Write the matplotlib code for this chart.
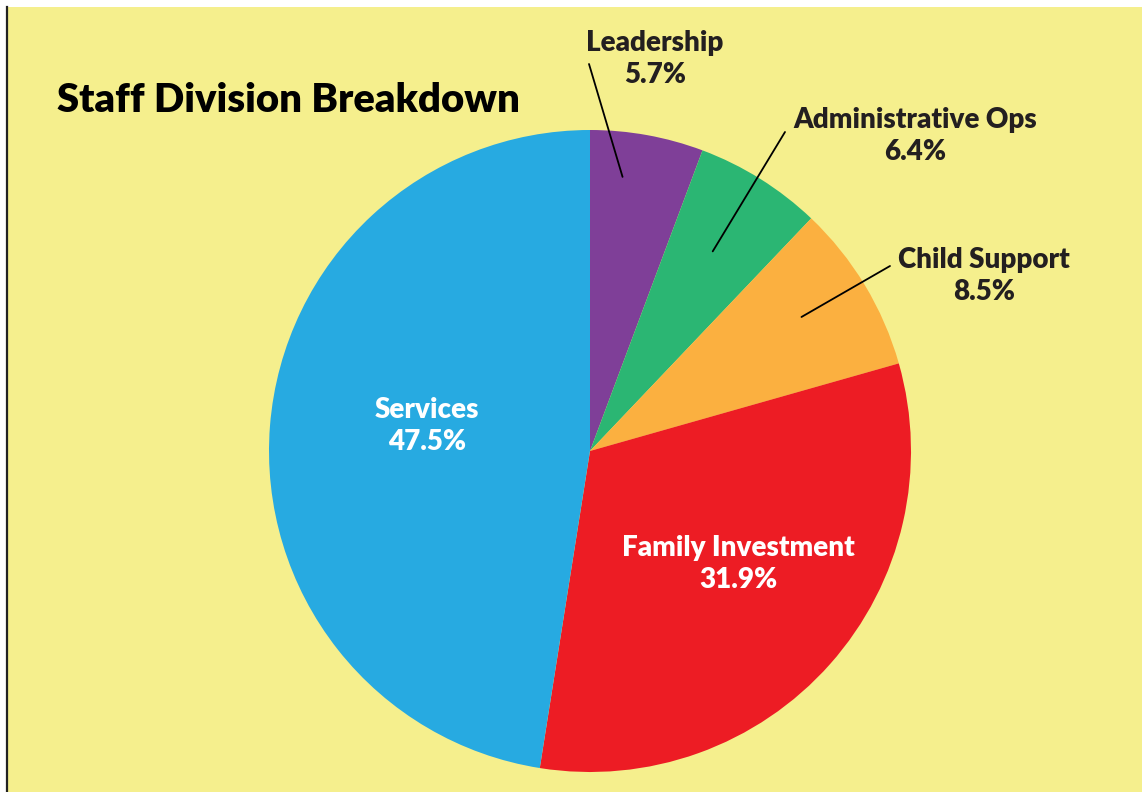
import numpy as np
import matplotlib
matplotlib.use("Agg")
from matplotlib import pyplot as plt
from matplotlib.patches import Rectangle
from matplotlib.lines import Line2D

# data, clockwise from the top
labels = ["Leadership", "Administrative Ops", "Child Support", "Family Investment", "Services"]
shares = [5.7, 6.4, 8.5, 31.9, 47.5]
colors = ["#7F3F98", "#2BB673", "#FBB040", "#ED1C24", "#27AAE1"]

W, H = 1142, 792
bg = "#F5EF8D"
ink = "#231F20"
plt.rcParams["font.family"] = ["Lato", "DejaVu Sans"]

fig = plt.figure(figsize=(W / 100, H / 100), dpi=100, facecolor="white")
# yellow panel + thin black edge on the left
fig.add_artist(Rectangle((8 / W, 0), 1, 785 / H, transform=fig.transFigure,
                         facecolor=bg, edgecolor="none", zorder=0))
fig.add_artist(Line2D([7 / W, 7 / W], [0, 785 / H], transform=fig.transFigure,
                      color="#222222", lw=1.6, zorder=1))

# axes in pixel units (y measured from bottom)
ax = fig.add_axes([0, 0, 1, 1])
cx, cy, r = 590, H - 451, 321
wedges, _ = ax.pie(shares, colors=colors, startangle=90, counterclock=False,
                   center=(cx, cy), radius=r, wedgeprops=dict(linewidth=0))
ax.set_xlim(0, W)
ax.set_ylim(0, H)
ax.set_aspect("auto")
ax.axis("off")

ax.text(57, H - 100, "Staff Division Breakdown", fontsize=28.8, fontweight="heavy",
        color="black", ha="left", va="center")

def point_on(i, t, frac):
    w = wedges[i]
    a = np.deg2rad(w.theta1 + t * (w.theta2 - w.theta1))
    return cx + frac * r * np.cos(a), cy + frac * r * np.sin(a)

lab_kw = dict(fontsize=20, fontweight="heavy", ha="center", va="center", linespacing=1.28)

# outside labels with leader lines: text pos, line start, (angle frac, radius frac)
outside = {0: (655, 59, 589, 64, 0.67, 0.86),
           1: (915, 136, 785, 132, 0.52, 0.73),
           2: (984, 276, 890, 266, 0.54, 0.78)}
for i, (tx, ty, lx, ly, t, f) in outside.items():
    ax.text(tx, H - ty, f"{labels[i]}\n{shares[i]}%", color=ink, **lab_kw)
    px, py = point_on(i, t, f)
    ax.annotate("", xy=(px, py), xytext=(lx, H - ly),
                arrowprops=dict(arrowstyle="-", color="black", lw=1.3,
                                shrinkA=0, shrinkB=0))

# inside labels
ax.text(427, H - 426, f"{labels[4]}\n{shares[4]}%", color="white", **lab_kw)
ax.text(738, H - 564, f"{labels[3]}\n{shares[3]}%", color="white", **lab_kw)

fig.savefig("out.png", dpi=100, facecolor="white")
